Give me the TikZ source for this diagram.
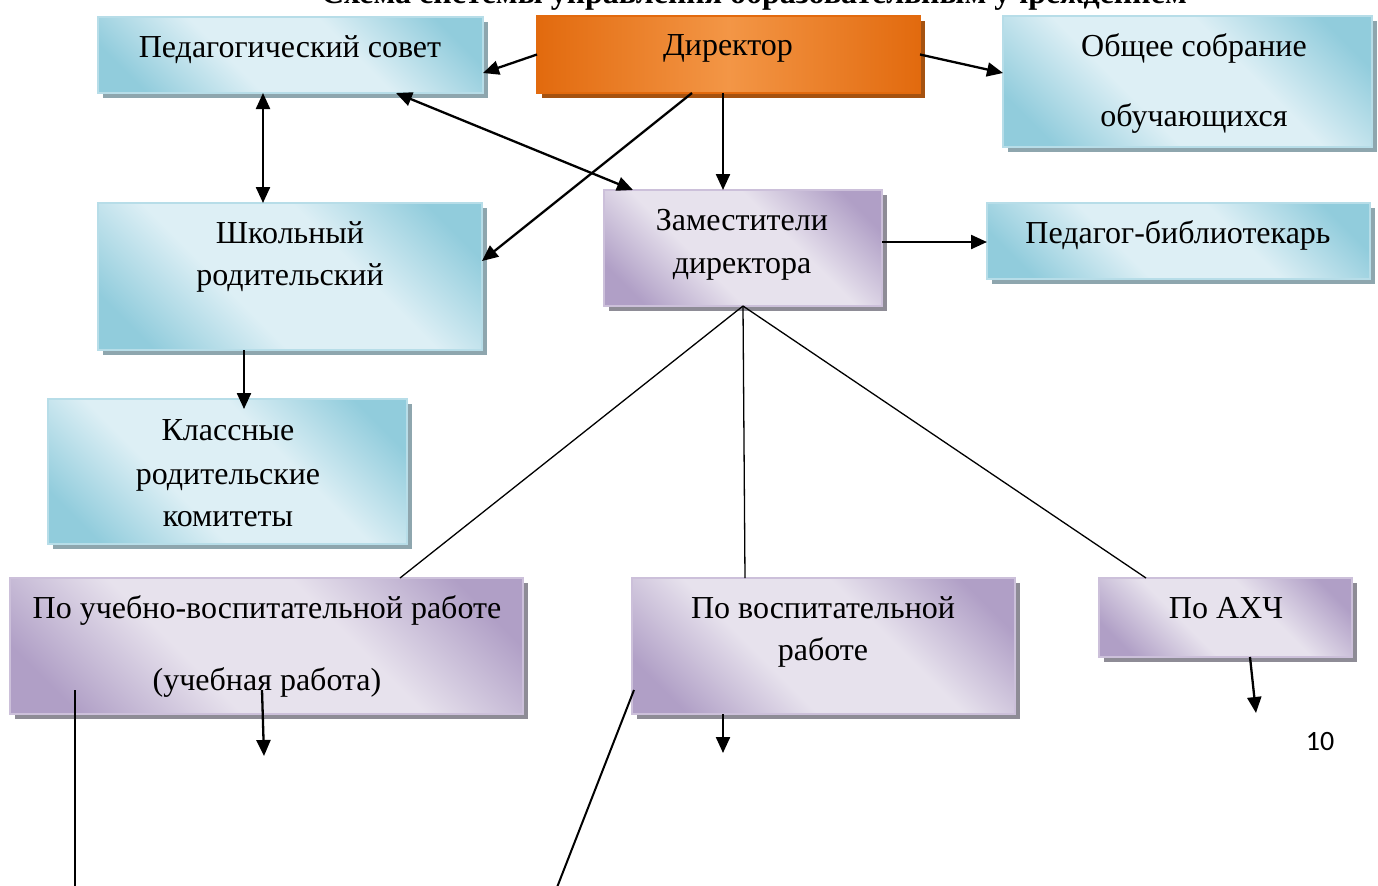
\documentclass[tikz,border=0pt]{standalone}
\usepackage{fontspec}
\setmainfont{Liberation Serif}
\newfontfamily\pagenumfont{Carlito}
\usetikzlibrary{shadows,arrows.meta,calc}

\definecolor{bluedark}{RGB}{145,204,220}
\definecolor{bluelight}{RGB}{221,239,245}
\definecolor{blueedge}{RGB}{183,221,232}
\definecolor{blueshadow}{RGB}{142,166,174}
\definecolor{purpdark}{RGB}{176,159,198}
\definecolor{purplight}{RGB}{231,226,237}
\definecolor{purpedge}{RGB}{204,192,218}
\definecolor{purpshadow}{RGB}{142,140,150}
\definecolor{orgdark}{RGB}{226,106,14}
\definecolor{orglight}{RGB}{243,150,70}
\definecolor{orgshadow}{RGB}{165,82,16}

\pgfdeclareverticalshading{bluediag}{100bp}{color(0bp)=(bluedark); color(22bp)=(bluedark); color(40bp)=(bluelight); color(60bp)=(bluelight); color(78bp)=(bluedark); color(100bp)=(bluedark)}
\pgfdeclareverticalshading{purpdiag}{100bp}{color(0bp)=(purpdark); color(22bp)=(purpdark); color(40bp)=(purplight); color(60bp)=(purplight); color(78bp)=(purpdark); color(100bp)=(purpdark)}

\begin{document}
\begin{tikzpicture}[x=0.5pt,y=-0.5pt,
  box/.style={rectangle, inner sep=0pt, outer sep=0pt, anchor=north west},
  bluebox/.style={box, draw=blueedge, line width=0.6pt,
    shade, shading=bluediag, shading angle=-45,
    drop shadow={fill=blueshadow, opacity=1, shadow xshift=2.5pt, shadow yshift=-2.5pt}},
  purpbox/.style={box, draw=purpedge, line width=0.6pt,
    shade, shading=purpdiag, shading angle=-45,
    drop shadow={fill=purpshadow, opacity=1, shadow xshift=2.5pt, shadow yshift=-2.5pt}},
  orgbox/.style={box, draw=orgdark, line width=0.6pt,
    left color=orgdark, right color=orgdark, middle color=orglight,
    drop shadow={fill=orgshadow, opacity=1, shadow xshift=2.5pt, shadow yshift=-2.5pt}},
  lbl/.style={anchor=base, inner sep=0pt, font=\fontsize{16}{20}\selectfont},
  arr/.style={line width=1.15pt, -{Triangle[length=8pt,width=7pt]}},
  darr/.style={line width=1.15pt, {Triangle[length=8pt,width=7pt]}-{Triangle[length=8pt,width=7pt]}},
  thinline/.style={line width=0.65pt},
  midline/.style={line width=1pt},
  ]
\path[use as bounding box] (0,0) rectangle (1378,885);
\clip (0,0) rectangle (1378,885);

% title (cut at top)
\node[anchor=base, inner sep=0pt, font=\bfseries\fontsize{16}{20}\selectfont] (title) at (754,3) {Схема системы управления образовательным учреждением};

% boxes
\node[bluebox, minimum width=192.5pt, minimum height=38pt] (ped) at (98,17) {};
\node[orgbox, minimum width=191.5pt, minimum height=38.5pt] (dir) at (537,16) {};
\node[bluebox, minimum width=184.5pt, minimum height=65.5pt] (ob) at (1003,16) {};
\node[bluebox, minimum width=192pt, minimum height=73.5pt] (shk) at (98,203) {};
\node[bluebox, minimum width=179.5pt, minimum height=72.5pt] (kl) at (48,399) {};
\node[purpbox, minimum width=139pt, minimum height=58pt] (zam) at (604,190) {};
\node[bluebox, minimum width=191.5pt, minimum height=38pt] (bib) at (987,203) {};
\node[purpbox, minimum width=256.5pt, minimum height=68pt] (uvr) at (10,578) {};
\node[purpbox, minimum width=191.5pt, minimum height=68pt] (vr) at (632,578) {};
\node[purpbox, minimum width=126.5pt, minimum height=39.5pt] (ahch) at (1099,578) {};

% labels
\node[lbl] (ped-t) at (290,57) {Педагогический совет};
\node[lbl] (dir-t) at (728,55) {Директор};
\node[lbl] (ob-t1) at (1194,56) {Общее собрание};
\node[lbl] (ob-t2) at (1194,126) {обучающихся};
\node[lbl] (shk-t1) at (290,243) {Школьный};
\node[lbl] (shk-t2) at (290,285) {родительский};
\node[lbl] (kl-t1) at (228,440) {Классные};
\node[lbl] (kl-t2) at (228,484) {родительские};
\node[lbl] (kl-t3) at (228,526) {комитеты};
\node[lbl] (zam-t1) at (742,230) {Заместители};
\node[lbl] (zam-t2) at (742,273) {директора};
\node[lbl] (bib-t) at (1178,243) {Педагог-библиотекарь};
\node[lbl] (uvr-t1) at (267,618) {По учебно-воспитательной работе};
\node[lbl] (uvr-t2) at (267,690) {(учебная работа)};
\node[lbl] (vr-t1) at (823,618) {По воспитательной};
\node[lbl] (vr-t2) at (823,660) {работе};
\node[lbl] (ahch-t) at (1226,618) {По АХЧ};
\node[anchor=base, inner sep=0pt, font=\pagenumfont\fontsize{14}{17}\selectfont] (pnum) at (1320,750) {10};

% free ends
\coordinate (e1) at (264,756);
\coordinate (e2) at (75,890);
\coordinate (e3) at (556,890);
\coordinate (e4) at (723,753);
\coordinate (e5) at (1256,713);

% connectors
\draw[arr] (dir.west) -- ($(ped.north east)+(0,56)$);
\draw[arr] (dir.east) -- ($(ob.north west)+(0,57)$);
\draw[arr] ($(dir.south west)+(186,0)$) -- ($(zam.north west)+(119,0)$);
\draw[arr] ($(dir.south west)+(155,0)$) -- ($(shk.north east)+(0,58)$);
\draw[darr] ($(ped.south west)+(165,0)$) -- ($(shk.north west)+(165,0)$);
\draw[darr] ($(ped.south west)+(298,0)$) -- ($(zam.north west)+(29,0)$);
\draw[arr] ($(zam.north east)+(0,52)$) -- ($(bib.north west)+(0,39)$);
\draw[arr] ($(shk.south west)+(146,0)$) -- ($(kl.north west)+(196,10)$);

\draw[thinline] ($(zam.south west)+(139,0)$) -- ($(uvr.north west)+(390,0)$);
\draw[thinline] ($(zam.south west)+(139,0)$) -- ($(vr.north west)+(113,0)$);
\draw[thinline] ($(zam.south west)+(139,0)$) -- ($(ahch.north west)+(47,0)$);

\draw[arr] ($(uvr.north west)+(252,112)$) -- (e1);
\draw[midline] ($(uvr.north west)+(65,112)$) -- (e2);
\draw[midline] ($(vr.north west)+(2,112)$) -- (e3);
\draw[arr] ($(vr.south west)+(91,0)$) -- (e4);
\draw[arr] ($(ahch.south west)+(151,0)$) -- (e5);
\end{tikzpicture}
\end{document}
